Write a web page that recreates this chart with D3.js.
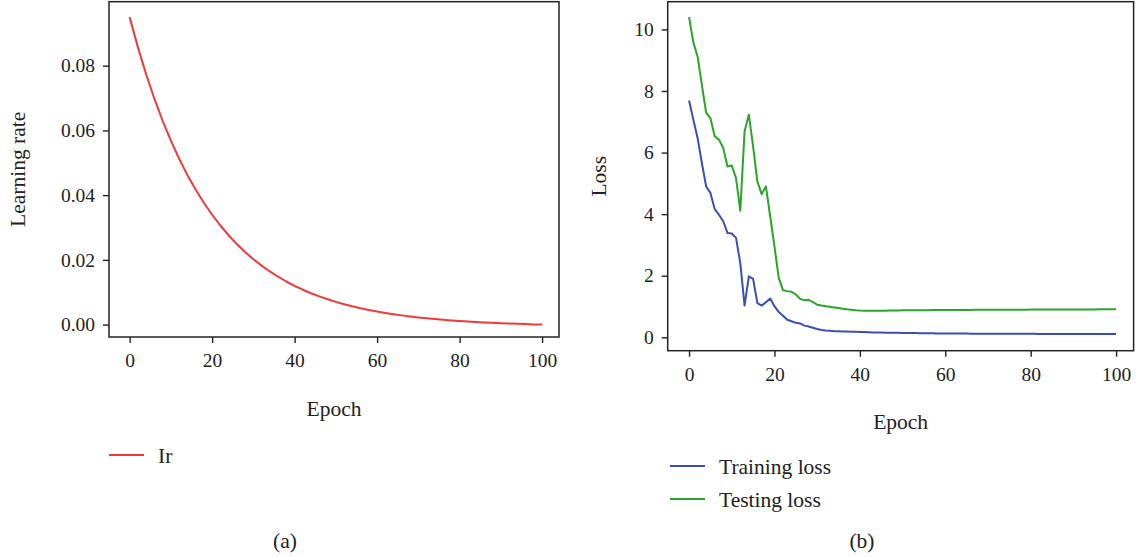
<!DOCTYPE html>
<html>
<head>
<meta charset="utf-8">
<script src="https://cdn.jsdelivr.net/npm/d3@7"></script>
<style>
  html, body { margin: 0; padding: 0; background: #fff; }
  svg { display: block; }
  text { font-family: "Liberation Serif", "Times New Roman", serif; fill: #222; }
</style>
</head>
<body>
<svg id="chart" width="1141" height="557"></svg>
<script>
// ---------- data ----------
const lrEpochs = [0,2,4,6,8,10,12,14,16,18,20,22,24,26,28,30,32,34,36,38,40,42,44,46,48,50,
  52,54,56,58,60,62,64,66,68,70,72,74,76,78,80,82,84,86,88,90,92,94,96,98,100];
const lrValues = [0.09500,0.08573,0.07736,0.06980,0.06298,0.05682,0.05126,0.04625,0.04172,0.03764,
  0.03395,0.03062,0.02761,0.02488,0.02243,0.02022,0.01822,0.01642,0.01479,0.01332,
  0.01199,0.01078,0.00969,0.00871,0.00783,0.00703,0.00631,0.00565,0.00506,0.00453,
  0.00404,0.00360,0.00320,0.00285,0.00252,0.00223,0.00196,0.00172,0.00150,0.00130,
  0.00112,0.00096,0.00081,0.00067,0.00055,0.00044,0.00033,0.00024,0.00015,0.00007,0.00000];

const lossEpochs = [0,1,2,3,4,5,6,7,8,9,10,11,12,13,14,15,16,17,18,19,20,21,22,23,24,25,26,27,28,29,
  30,31,32,33,34,35,36,37,38,39,40,41,42,43,44,45,46,47,48,49,50,51,52,53,54,55,56,57,58,59,
  60,61,62,63,64,65,66,67,68,69,70,71,72,73,74,75,76,77,78,79,80,81,82,83,84,85,86,87,88,89,
  90,91,92,93,94,95,96,97,98,99,100];
const trainLoss = [7.69,7.07,6.47,5.66,4.90,4.69,4.17,3.98,3.77,3.39,3.37,3.23,2.41,1.03,1.98,1.90,1.11,1.03,1.14,1.26,
  1.01,0.82,0.70,0.57,0.52,0.47,0.45,0.38,0.35,0.31,0.27,0.24,0.22,0.21,0.20,0.195,0.19,0.185,0.18,0.178,
  0.175,0.17,0.165,0.16,0.158,0.155,0.152,0.15,0.148,0.145,0.143,0.14,0.138,0.136,0.134,0.132,0.13,0.128,0.126,0.125,
  0.123,0.122,0.121,0.121,0.120,0.120,0.119,0.119,0.118,0.118,0.117,0.117,0.116,0.116,0.115,0.115,0.114,0.114,0.113,0.113,
  0.112,0.112,0.111,0.111,0.110,0.110,0.109,0.109,0.108,0.108,0.107,0.107,0.107,0.106,0.106,0.106,0.105,0.105,0.105,0.105,0.105];
const testLoss = [10.40,9.58,9.12,8.20,7.30,7.12,6.53,6.42,6.15,5.55,5.58,5.17,4.11,6.69,7.23,6.20,5.06,4.65,4.90,3.93,
  2.95,1.93,1.53,1.50,1.48,1.39,1.25,1.20,1.22,1.14,1.06,1.03,1.01,0.99,0.97,0.95,0.93,0.91,0.895,0.88,
  0.87,0.865,0.86,0.86,0.86,0.862,0.865,0.868,0.87,0.872,0.875,0.877,0.878,0.879,0.88,0.881,0.882,0.883,0.884,0.885,
  0.885,0.886,0.887,0.888,0.889,0.889,0.890,0.891,0.891,0.892,0.893,0.894,0.894,0.895,0.896,0.896,0.897,0.898,0.899,0.899,
  0.900,0.900,0.901,0.901,0.902,0.902,0.903,0.903,0.904,0.904,0.905,0.905,0.906,0.906,0.907,0.907,0.908,0.908,0.909,0.909,0.910];

const xTicks = [0,20,40,60,80,100];
const lrTicks = [0.00,0.02,0.04,0.06,0.08];
const lossTicks = [0,2,4,6,8,10];

const colors = { lr: "#f03a3a", train: "#3a4fb5", test: "#2aa52a" };

// ---------- drawing ----------
const svg = d3.select("#chart");
const tickFont = 19.5, labelFont = 21.5;

function panel(opts) {
  const g = svg.append("g");
  const x = d3.scaleLinear().domain([-5, 104.1]).range(opts.xr);
  const y = d3.scaleLinear().domain(opts.yd).range(opts.yr);

  const ax = g.append("g").attr("transform", `translate(0,${opts.yr[0]})`)
    .call(d3.axisBottom(x).tickValues(xTicks).tickSize(6).tickPadding(10).tickFormat(d3.format("d")));
  const ay = g.append("g").attr("transform", `translate(${opts.xr[0]},0)`)
    .call(d3.axisLeft(y).tickValues(opts.yTicks).tickSize(6).tickPadding(8).tickFormat(opts.yFmt));
  [ax, ay].forEach(a => {
    a.select(".domain").remove();
    a.selectAll(".tick line").attr("stroke", "#222").attr("stroke-width", 1.4);
    a.selectAll(".tick text").attr("font-size", tickFont).attr("font-family", "Liberation Serif, serif").attr("fill", "#222");
  });

  const line = d3.line().x(d => x(d[0])).y(d => y(d[1]));
  opts.series.forEach(s => {
    g.append("path").datum(s.xs.map((e, i) => [e, s.ys[i]]))
      .attr("fill", "none").attr("stroke", s.color).attr("stroke-width", 2)
      .attr("stroke-linejoin", "round").attr("d", line);
  });

  g.append("rect").attr("x", opts.xr[0]).attr("y", opts.yr[1])
    .attr("width", opts.xr[1] - opts.xr[0]).attr("height", opts.yr[0] - opts.yr[1])
    .attr("fill", "none").attr("stroke", "#222").attr("stroke-width", 1.5);

  g.append("text").attr("transform", `translate(${opts.ylabX},${(opts.yr[0] + opts.yr[1]) / 2}) rotate(-90)`)
    .attr("text-anchor", "middle").attr("dy", "0.35em").attr("font-size", labelFont).text(opts.ylab);
  g.append("text").attr("x", (opts.xr[0] + opts.xr[1]) / 2).attr("y", opts.xlabY)
    .attr("text-anchor", "middle").attr("dy", "0.35em").attr("font-size", labelFont).text("Epoch");

  opts.series.forEach((s, i) => {
    const ly = opts.legY + i * opts.legStep;
    g.append("line").attr("x1", opts.legX).attr("x2", opts.legX + 35).attr("y1", ly).attr("y2", ly)
      .attr("stroke", s.color).attr("stroke-width", 2);
    g.append("text").attr("x", opts.legX + 49).attr("y", ly).attr("dy", "0.35em")
      .attr("font-size", labelFont).text(s.name);
  });

  g.append("text").attr("x", opts.capX).attr("y", 540).attr("dy", "0.35em")
    .attr("text-anchor", "middle").attr("font-size", labelFont).text(opts.cap);
}

panel({
  xr: [109, 559], yr: [337, 1.7], yd: [-0.00383, 0.09977],
  yTicks: lrTicks, yFmt: d3.format(".2f"),
  ylab: "Learning rate", ylabX: 17, xlabY: 408,
  series: [{ name: "Ir", xs: lrEpochs, ys: lrValues, color: colors.lr }],
  legX: 109, legY: 455, legStep: 33, capX: 285, cap: "(a)"
});

panel({
  xr: [667.7, 1133.6], yr: [350.7, 1.7], yd: [-0.435, 10.9],
  yTicks: lossTicks, yFmt: d3.format("d"),
  ylab: "Loss", ylabX: 598, xlabY: 421,
  series: [
    { name: "Training loss", xs: lossEpochs, ys: trainLoss, color: colors.train },
    { name: "Testing loss", xs: lossEpochs, ys: testLoss, color: colors.test }
  ],
  legX: 670, legY: 466, legStep: 33, capX: 862, cap: "(b)"
});
</script>
</body>
</html>
